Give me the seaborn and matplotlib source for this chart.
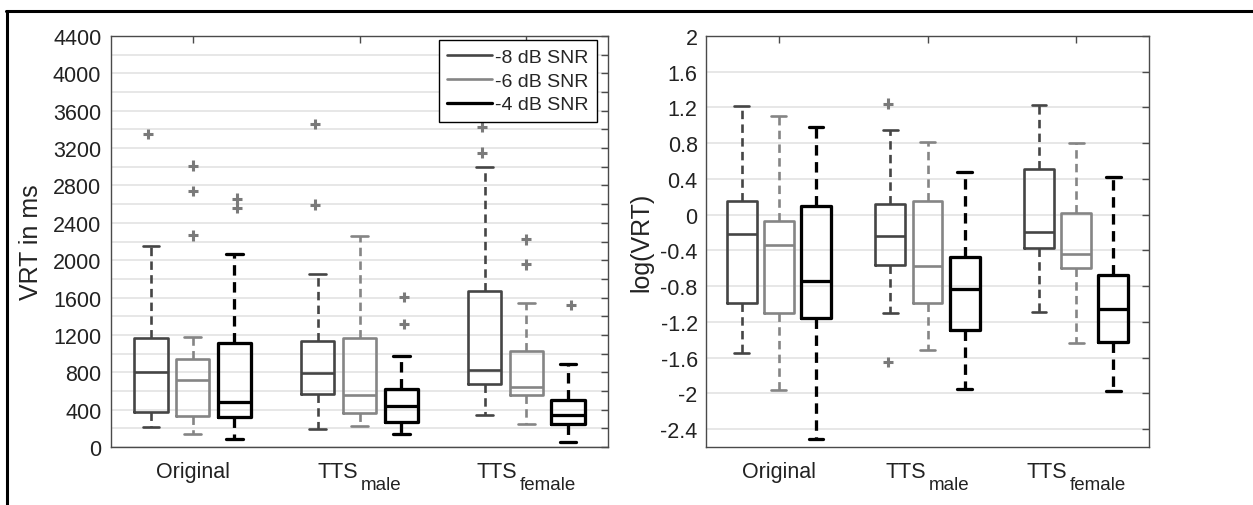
import numpy as np
import pandas as pd
import matplotlib
matplotlib.use("Agg")
import matplotlib.pyplot as plt
from matplotlib.lines import Line2D
import matplotlib.ticker as mticker
import seaborn as sns

# ---------------- data ----------------
categories = ["Original", "TTS_male", "TTS_female"]
cat_main = ["Original", "TTS", "TTS"]
cat_sub = ["", "male", "female"]
snr_levels = ["-8 dB SNR", "-6 dB SNR", "-4 dB SNR"]
snr_colors = ["#454545", "#858585", "#000000"]
snr_widths = [1.9, 1.9, 2.35]

# box order: (Original: -8,-6,-4), (TTS male: -8,-6,-4), (TTS female: -8,-6,-4)
vrt_whislo = [214, 143, 82, 196, 221, 143, 339, 243, 54]
vrt_q1     = [371, 332, 318, 564, 368, 268, 678, 553, 243]
vrt_med    = [803, 714, 478, 792, 560, 439, 821, 642, 346]
vrt_q3     = [1163, 939, 1113, 1138, 1163, 625, 1667, 1024, 507]
vrt_whishi = [2156, 1178, 2066, 1856, 2256, 971, 2998, 1542, 885]
vrt_flier_box = [0, 1, 1, 1, 2, 2, 3, 3, 5, 5, 6, 6, 7, 7, 8]
vrt_flier_val = [3355, 3012, 2741, 2266, 2659, 2562, 3458, 2595, 1606, 1317,
                 3430, 3151, 2223, 1956, 1517]

log_whislo = [-1.546, -1.960, -2.508, -1.102, -1.509, -1.952, -1.087, -1.434, -1.971]
log_q1     = [-0.983, -1.102, -1.154, -0.565, -0.990, -1.296, -0.375, -0.595, -1.427]
log_med    = [-0.215, -0.342, -0.737, -0.237, -0.573, -0.837, -0.192, -0.435, -1.061]
log_q3     = [0.154, -0.066, 0.098, 0.121, 0.154, -0.472, 0.512, 0.020, -0.677]
log_whishi = [1.213, 1.101, 0.978, 0.952, 0.814, 0.475, 1.232, 0.803, 0.419]
log_flier_box = [3, 3]
log_flier_val = [1.243, -1.647]


def box_frame(lo, q1, med, q3, hi):
    rows = []
    for i, vals in enumerate(zip(lo, q1, med, q3, hi)):
        cat = categories[i // 3]
        snr = snr_levels[i % 3]
        for v in vals:
            rows.append({"cat": cat, "snr": snr, "val": v})
    return pd.DataFrame(rows)


def flier_frame(boxes, vals):
    return pd.DataFrame({"cat": [categories[b // 3] for b in boxes],
                         "snr": [snr_levels[b % 3] for b in boxes],
                         "val": vals})


# ---------------- style ----------------
sns.set_theme(style="white")
plt.rcParams["font.family"] = ["Liberation Sans", "DejaVu Sans"]

W, H = 1253, 506
fig = plt.figure(figsize=(W / 100, H / 100), dpi=100)
fig.patch.set_facecolor("white")

axL = fig.add_axes([111 / W, (H - 448) / H, 497 / W, 411 / H])
axR = fig.add_axes([706 / W, (H - 448) / H, 443 / W, 411 / H])

flier_color = "#7a7a7a"
text_color = "#222222"
TICK_FS = 15.5


def draw_panel(ax, box_df, fl_df):
    for lvl, col, lw in zip(snr_levels, snr_colors, snr_widths):
        sub = box_df[box_df["snr"] == lvl]
        sns.boxplot(data=sub, x="cat", y="val", hue="snr", order=categories,
                    hue_order=snr_levels, palette={l: col for l in snr_levels},
                    fill=False, width=0.75, gap=0.2, whis=(0, 100), linewidth=lw,
                    showfliers=False, dodge=True, legend=False, ax=ax,
                    whiskerprops=dict(linestyle=(0, (3.2, 2.0))))
    if len(fl_df):
        sns.stripplot(data=fl_df, x="cat", y="val", hue="snr", order=categories,
                      hue_order=snr_levels,
                      palette={l: flier_color for l in snr_levels},
                      dodge=True, jitter=False, marker="+", size=7.5, linewidth=2.2,
                      legend=False, ax=ax)
    ax.set_xlim(-0.49, 2.49)
    ax.set_xlabel("")
    for s in ax.spines.values():
        s.set_visible(True)
        s.set_color("#4a4a4a")
        s.set_linewidth(1.0)
    ax.tick_params(axis="both", which="both", direction="in", top=True,
                   right=True, colors="#4a4a4a", labelcolor=text_color,
                   labelsize=TICK_FS, length=5, width=1)
    ax.set_xticks(range(len(categories)))
    ax.set_xticklabels([""] * len(categories))
    ax.set_axisbelow(True)


draw_panel(axL, box_frame(vrt_whislo, vrt_q1, vrt_med, vrt_q3, vrt_whishi),
           flier_frame(vrt_flier_box, vrt_flier_val))
draw_panel(axR, box_frame(log_whislo, log_q1, log_med, log_q3, log_whishi),
           flier_frame(log_flier_box, log_flier_val))

# left axis
axL.set_ylim(0, 4400)
axL.yaxis.set_major_locator(mticker.MultipleLocator(400))
axL.yaxis.set_minor_locator(mticker.MultipleLocator(200))
axL.grid(True, which="both", axis="y", color="#e3e3e3", linewidth=1.2)
axL.set_ylabel("VRT in ms", fontsize=18, labelpad=7, color=text_color)
axL.tick_params(axis="y", pad=7)

# right axis
axR.set_ylim(-2.6, 2.0)
axR.yaxis.set_major_locator(mticker.MultipleLocator(0.4))
axR.yaxis.set_major_formatter(mticker.FuncFormatter(
    lambda v, p: "0" if abs(v) < 1e-9 else ("%g" % round(v, 1))))
axR.grid(True, which="major", axis="y", color="#e3e3e3", linewidth=1.2)
axR.set_ylabel("log(VRT)", fontsize=18, labelpad=5, color=text_color)
axR.tick_params(axis="y", pad=6)

# category labels with large MATLAB-like subscripts
renderer = fig.canvas.get_renderer()
MAIN_Y, SUB_Y = -21.6, -30.2  # baselines in points below the axes
for ax in (axL, axR):
    trans = ax.get_xaxis_transform()
    for i, (main, sub) in enumerate(zip(cat_main, cat_sub)):
        t1 = ax.annotate(main, xy=(i, 0), xycoords=trans, xytext=(0, MAIN_Y),
                         textcoords="offset points", ha="left", va="baseline",
                         fontsize=TICK_FS, color=text_color, annotation_clip=False)
        w1 = t1.get_window_extent(renderer).width
        if sub:
            t2 = ax.annotate(sub, xy=(i, 0), xycoords=trans, xytext=(0, SUB_Y),
                             textcoords="offset points", ha="left", va="baseline",
                             fontsize=13.5, color=text_color, annotation_clip=False)
            w2 = t2.get_window_extent(renderer).width
            gap = 2.0
        else:
            w2, gap = 0.0, 0.0
        total = w1 + gap + w2
        t1.xyann = (-total / 2 * 0.72, MAIN_Y)
        if sub:
            t2.xyann = ((-total / 2 + w1 + gap) * 0.72, SUB_Y)

# legend
handles = [Line2D([], [], color=c, linewidth=lw) for c, lw in zip(snr_colors, snr_widths)]
leg = axL.legend(handles, snr_levels, loc="upper right",
                 bbox_to_anchor=((597 - 111) / 497, (448 - 41) / 411),
                 borderaxespad=0, fontsize=14, frameon=True, fancybox=False,
                 framealpha=1, edgecolor="black", handlelength=2.35,
                 handletextpad=0.15, labelspacing=0.32, borderpad=0.42)
leg.get_frame().set_linewidth(1.0)

# figure border (top and left)
fig.add_artist(Line2D([6 / W, 1.0], [1 - 12 / H, 1 - 12 / H], color="black",
                      linewidth=2.2, transform=fig.transFigure))
fig.add_artist(Line2D([7 / W, 7 / W], [0, 1 - 12 / H], color="black",
                      linewidth=2.2, transform=fig.transFigure))

fig.savefig("out.png", dpi=100, facecolor="white")
